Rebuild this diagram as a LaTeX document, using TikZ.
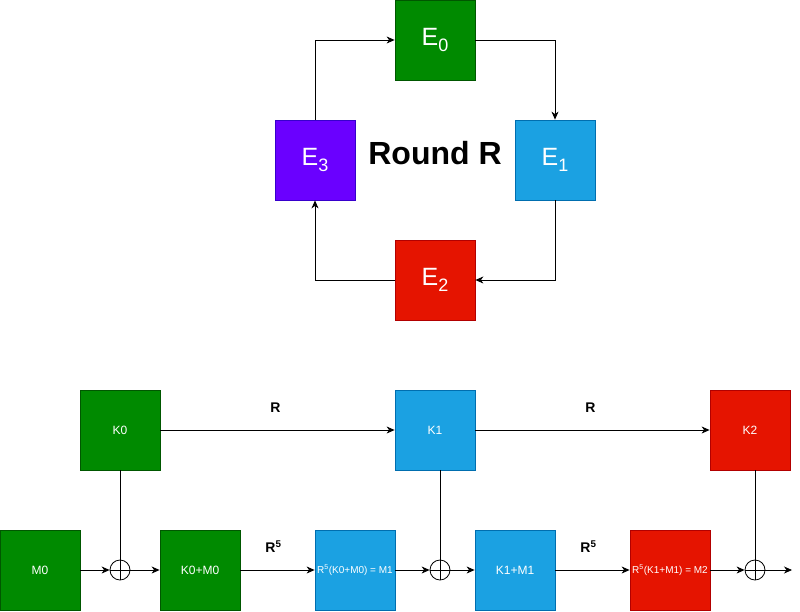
\documentclass[tikz,border=0pt]{standalone}
\usepackage{fontspec}
\setmainfont{Liberation Sans}
\usetikzlibrary{arrows.meta,positioning}
\definecolor{gfill}{HTML}{008A00}
\definecolor{gline}{HTML}{005700}
\definecolor{bfill}{HTML}{1BA1E2}
\definecolor{bline}{HTML}{006EAF}
\definecolor{rfill}{HTML}{E51400}
\definecolor{rline}{HTML}{B20000}
\definecolor{pfill}{HTML}{6A00FF}
\definecolor{pline}{HTML}{3700CC}

\newcommand{\esub}[1]{E\raisebox{-6pt}{\fontsize{18}{20}\selectfont #1}}

\tikzset{
  box/.style={draw,minimum size=80pt,inner sep=0pt,text=white,font=\fontsize{12}{14}\selectfont},
  gbox/.style={box,fill=gfill,draw=gline},
  bbox/.style={box,fill=bfill,draw=bline},
  rbox/.style={box,fill=rfill,draw=rline},
  pbox/.style={box,fill=pfill,draw=pline},
  ebox/.style={font=\fontsize{25}{30}\selectfont},
  xor/.style={draw,circle,minimum size=20pt,inner sep=0pt,
    path picture={\draw (path picture bounding box.north) -- (path picture bounding box.south)
      (path picture bounding box.west) -- (path picture bounding box.east);}},
  lbl/.style={font=\bfseries\fontsize{14}{16}\selectfont}
}

\begin{document}
\begin{tikzpicture}[x=1pt,y=-1pt,line width=0.8pt,
  >={Stealth[length=8pt,width=7pt,inset=2.5pt]}]
        \useasboundingbox (0,0) rectangle (800,611);

        % round R
        \node [gbox,ebox] (e0) at (435,40) {\esub{0}};
        \node [bbox,ebox] (e1) at (555,160) {\esub{1}};
        \node [rbox,ebox] (e2) at (435,280) {\esub{2}};
        \node [pbox,ebox] (e3) at (315,160) {\esub{3}};
        \node [font=\bfseries\fontsize{32}{36}\selectfont] (round) at (435,153) {Round R};

        \draw [->] (e0.east) -| (e1.north);
        \draw [->] (e1.south) |- (e2.east);
        \draw [->] (e2.west) -| (e3.south);
        \draw [->] (e3.north) |- (e0.west);

        % keys
        \node [gbox] (k0) at (120,430) {K0};
        \node [bbox] (k1) at (435,430) {K1};
        \node [rbox] (k2) at (750,430) {K2};
        \draw [->] (k0) -- node [lbl,above=14pt,xshift=-2pt] {R} (k1);
        \draw [->] (k1) -- node [lbl,above=14pt,xshift=-2pt] {R} (k2);

        % messages
        \node [gbox] (m0) at (40,570) {M0};
        \node [xor] (x0) at (120,570) {};
        \node [gbox] (km0) at (200,570) {K0+M0};
        \node [bbox,font=\fontsize{10}{11}\selectfont] (m1) at (355,570) {R\textsuperscript{5}(K0+M0) = M1};
        \node [xor] (x1) at (440,570) {};
        \node [bbox] (km1) at (515,570) {K1+M1};
        \node [rbox,font=\fontsize{10}{11}\selectfont] (m2) at (670,570) {R\textsuperscript{5}(K1+M1) = M2};
        \node [xor] (x2) at (755,570) {};
        \coordinate (out) at (792,570);

        \draw [->] (m0) -- (x0);
        \draw [->] (x0) -- (km0);
        \draw [->] (km0) -- node [lbl,above=14pt,xshift=-4pt] {R\textsuperscript{5}} (m1);
        \draw [->] (m1) -- (x1);
        \draw [->] (x1) -- (km1);
        \draw [->] (km1) -- node [lbl,above=14pt,xshift=-4pt] {R\textsuperscript{5}} (m2);
        \draw [->] (m2) -- (x2);
        \draw [->] (x2) -- (out);

        \draw (k0.south) -- (x0.north);
        \draw (k1.south -| x1) -- (x1.north);
        \draw (k2.south -| x2) -- (x2.north);
\end{tikzpicture}
\end{document}
